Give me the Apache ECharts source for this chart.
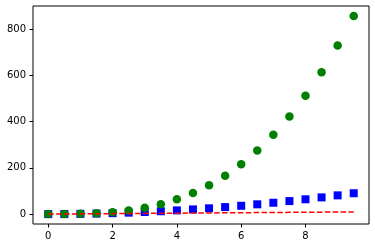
<!DOCTYPE html>
<html><head><meta charset="utf-8">
<script src="https://cdn.jsdelivr.net/npm/echarts@6/dist/echarts.min.js"></script>
<style>html,body{margin:0;padding:0;background:#fff}#c{width:375px;height:248px}</style>
</head><body><div id="c"></div>
<script>
const t = [0,0.5,1,1.5,2,2.5,3,3.5,4,4.5,5,5.5,6,6.5,7,7.5,8,8.5,9,9.5];
const redDash = [0,0.5,1,1.5,2,2.5,3,3.5,4,4.5,5,5.5,6,6.5,7,7.5,8,8.5,9,9.5];
const blueSquares = [0,0.25,1,2.25,4,6.25,9,12.25,16,20.25,25,30.25,36,42.25,49,56.25,64,72.25,81,90.25];
const greenCircles = [0,0.125,1,3.375,8,15.625,27,42.875,64,91.125,125,166.375,216,274.625,343,421.875,512,614.125,729,857.375];
const xTicks = [0,2,4,6,8];
const yTicks = [0,200,400,600,800];

const pairs = ys => t.map((x,i)=>[x, ys[i]]);
const chart = echarts.init(document.getElementById('c'), null, {renderer:'canvas'});
const lab = {color:'#000', fontFamily:'DejaVu Sans', fontSize:10};
chart.setOption({
  animation:false,
  grid:{left:33, right:6, top:6, bottom:24, show:true, borderColor:'#000', borderWidth:1, backgroundColor:'#fff'},
  xAxis:{type:'value', min:-0.475, max:9.975,
    axisLine:{show:false, onZero:false}, splitLine:{show:false},
    axisTick:{show:true, inside:false, length:3.5, customValues:xTicks, lineStyle:{color:'#000'}},
    axisLabel:Object.assign({customValues:xTicks, margin:7}, lab)},
  yAxis:{type:'value', min:-42.87, max:900.24,
    axisLine:{show:false, onZero:false}, splitLine:{show:false},
    axisTick:{show:true, inside:false, length:3.5, customValues:yTicks, lineStyle:{color:'#000'}},
    axisLabel:Object.assign({customValues:yTicks, margin:7}, lab)},
  series:[
    {type:'line', data:pairs(redDash), symbol:'none', lineStyle:{color:'#ff0000', width:1.5, type:[5.5,2.4]}},
    {type:'scatter', data:pairs(blueSquares), symbol:'rect', symbolSize:8, itemStyle:{color:'#0000ff', opacity:1}},
    {type:'scatter', data:pairs(greenCircles), symbol:'circle', symbolSize:8.5, itemStyle:{color:'#008000', opacity:1}}
  ]
});
</script></body></html>
